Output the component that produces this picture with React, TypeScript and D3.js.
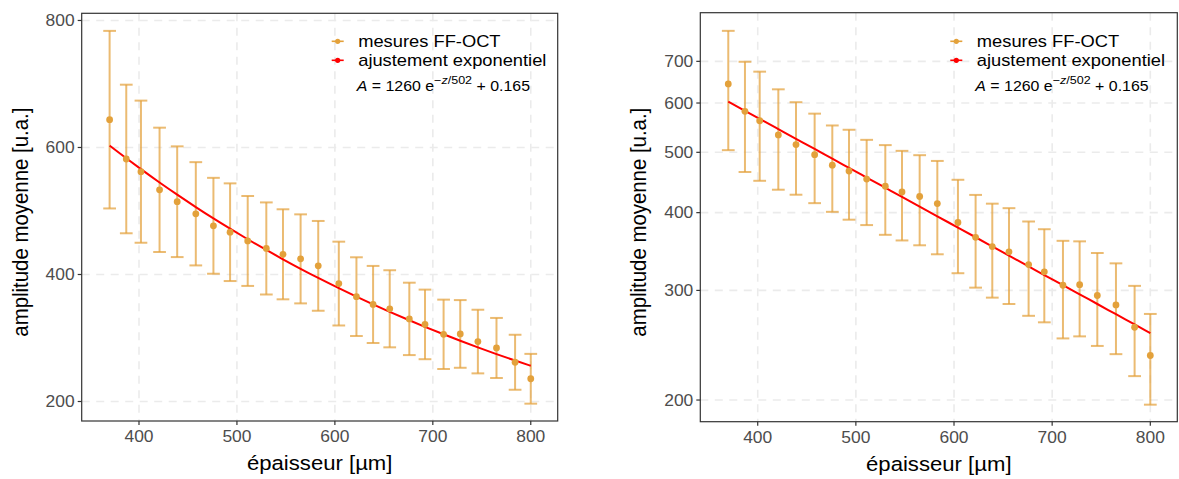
import React from "react";
import * as d3 from "d3";

// ---- data ----
const thickness = [370, 387, 402, 421, 439, 458, 476, 493, 511, 530, 547, 565, 583, 604, 622, 639, 656, 676, 692, 711, 728, 746, 765, 784, 800];
const amplitudeMean = [643.8, 581.9, 561.9, 533.3, 514.6, 495.6, 476.7, 466.6, 452.8, 441.0, 431.8, 424.6, 413.6, 385.7, 365.1, 352.8, 346.0, 330.1, 321.4, 305.8, 306.4, 294.4, 284.3, 261.8, 235.8];
const amplitudeSd = [139.8, 117.0, 111.9, 97.9, 87.2, 81.3, 75.5, 76.9, 70.8, 72.5, 70.9, 70.1, 70.7, 66.0, 62.0, 60.7, 60.7, 57.0, 54.8, 54.6, 53.3, 50.1, 47.3, 43.3, 39.2];
// fitted model A = 1260 e^{-z/502} + 0.165 evaluated at the measured thicknesses
const fitValues = [602.9, 583.0, 565.9, 544.9, 525.7, 506.2, 488.3, 472.1, 455.5, 438.6, 424.0, 409.0, 394.6, 378.5, 365.2, 353.0, 341.2, 327.9, 317.6, 305.9, 295.7, 285.3, 274.7, 264.5, 256.2];
const xTicks = [400, 500, 600, 700, 800];
const yTicksLinear = [200, 400, 600, 800];
const yTicksLog = [200, 300, 400, 500, 600, 700];
const legendLabels = ["mesures FF-OCT", "ajustement exponentiel"];

const ORANGE = "#E3A13B";
const RED = "#FF0000";
const GRID = "#EBEBEB";
const AXIS_TEXT = "#4D4D4D";
const FONT = "'Liberation Sans', Arial, Helvetica, sans-serif";
const SX = 1.09;

type PanelProps = { left: number; right: number; top: number; bottom: number; log: boolean; yDomain: [number, number] };

function T({ x, y, size, anchor = "start", fill = "#000", children }: any) {
  return (
    <text transform={`translate(${x},${y}) scale(${SX},1)`} textAnchor={anchor} fontSize={size} fill={fill} fontFamily={FONT}>
      {children}
    </text>
  );
}

function Panel({ left, right, top, bottom, log, yDomain }: PanelProps) {
  const x = d3.scaleLinear().domain([341.5, 827.5]).range([left, right]);
  const y = log
    ? d3.scaleLog().domain(yDomain).range([bottom, top])
    : d3.scaleLinear().domain(yDomain).range([bottom, top]);
  const yTicks = log ? yTicksLog : yTicksLinear;
  const capHalf = 6.5;
  const fitLine = d3
    .line<number>()
    .x((_, i) => x(thickness[i]))
    .y((d) => y(d))
    .curve(d3.curveMonotoneX)(fitValues) as string;
  const cx = (left + right) / 2;
  const cy = (top + bottom) / 2;
  const lgX = left + 250;
  return (
    <g>
      {xTicks.map((t) => (
        <line key={"gx" + t} x1={x(t)} x2={x(t)} y1={top} y2={bottom} stroke={GRID} strokeWidth={1.6} strokeDasharray="8,6.5" />
      ))}
      {yTicks.map((t) => (
        <line key={"gy" + t} x1={left} x2={right} y1={y(t)} y2={y(t)} stroke={GRID} strokeWidth={1.6} strokeDasharray="8,6.5" />
      ))}
      {thickness.map((t, i) => {
        const lo = y(amplitudeMean[i] - amplitudeSd[i]);
        const hi = y(amplitudeMean[i] + amplitudeSd[i]);
        const xl = x(t - capHalf);
        const xr = x(t + capHalf);
        return (
          <g key={"eb" + i} stroke={ORANGE} strokeOpacity={0.72} strokeWidth={2}>
            <line x1={x(t)} x2={x(t)} y1={lo} y2={hi} />
            <line x1={xl} x2={xr} y1={lo} y2={lo} />
            <line x1={xl} x2={xr} y1={hi} y2={hi} />
          </g>
        );
      })}
      <path d={fitLine} fill="none" stroke={RED} strokeWidth={2} />
      {thickness.map((t, i) => (
        <circle key={"pt" + i} cx={x(t)} cy={y(amplitudeMean[i])} r={3.4} fill={ORANGE} />
      ))}
      {legendLabels.map((lab, i) => {
        const ly = 41.3 + i * 19;
        const col = i === 0 ? ORANGE : RED;
        return (
          <g key={lab}>
            <line x1={lgX} x2={lgX + 12} y1={ly} y2={ly} stroke={col} strokeWidth={1.6} />
            <circle cx={lgX + 6} cy={ly} r={2.6} fill={col} />
            <T x={lgX + 26.5} y={ly + 5.9} size={16.8}>{lab}</T>
          </g>
        );
      })}
      <T x={lgX + 25} y={91} size={14.6}>
        <tspan fontStyle="italic">A</tspan>
        <tspan> = 1260 e</tspan>
        <tspan dy={-7} fontSize={11.5}>−</tspan>
        <tspan fontSize={11.5} fontStyle="italic">z</tspan>
        <tspan fontSize={11.5}>/502</tspan>
        <tspan dy={7}> + 0.165</tspan>
      </T>
      <rect x={left} y={top} width={right - left} height={bottom - top} fill="none" stroke="#333333" strokeWidth={1.2} />
      {xTicks.map((t) => (
        <g key={"xt" + t}>
          <line x1={x(t)} x2={x(t)} y1={bottom} y2={bottom + 4} stroke="#333333" strokeWidth={1.2} />
          <T x={x(t)} y={bottom + 21} size={16} anchor="middle" fill={AXIS_TEXT}>{t}</T>
        </g>
      ))}
      {yTicks.map((t) => (
        <g key={"yt" + t}>
          <line x1={left - 4} x2={left} y1={y(t)} y2={y(t)} stroke="#333333" strokeWidth={1.2} />
          <T x={left - 7} y={y(t) + 5.6} size={16} anchor="end" fill={AXIS_TEXT}>{t}</T>
        </g>
      ))}
      <T x={cx} y={bottom + 49} size={20.3} anchor="middle">épaisseur [µm]</T>
      <text transform={`translate(${left - 54},${cy + 5}) rotate(-90) scale(1,${SX})`} textAnchor="middle" fontSize={20.4} fill="#000" fontFamily={FONT}>amplitude moyenne [u.a.]</text>
    </g>
  );
}

export default function App() {
  return (
    <svg width={1179} height={479} style={{ position: "absolute", left: 0, top: 0, background: "#fff" }}>
      <rect width={1179} height={479} fill="#fff" />
      <Panel left={81.7} right={557.7} top={13.3} bottom={421} log={false} yDomain={[169.3, 811.3]} />
      <Panel left={700.3} right={1177.3} top={12.7} bottom={421.7} log={true} yDomain={[184.6, 838]} />
    </svg>
  );
}
